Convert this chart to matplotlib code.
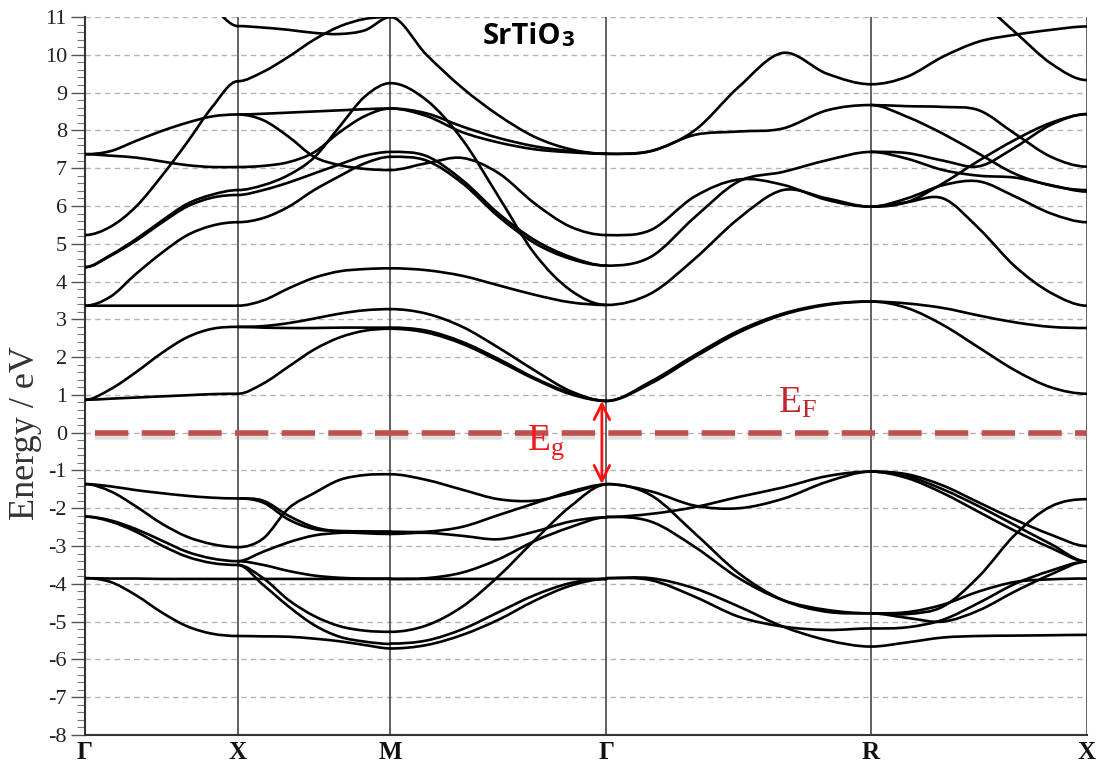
import numpy as np
import matplotlib
matplotlib.use("Agg")
import matplotlib.pyplot as plt
from matplotlib.path import Path
from matplotlib.patches import PathPatch
from matplotlib.ticker import MultipleLocator
import matplotlib.patheffects as pe

# high-symmetry path (distances in units of 2*pi/a)
k_nodes = [0.0, 0.5, 1.0, 1.707, 2.573, 3.280]
k_labels = ["Γ", "X", "M", "Γ", "R", "X"]

# band energies (eV) read at 7 equally spaced points along each segment
gx_bands = [
    [5.23, 5.45, 5.98, 6.78, 7.67, 8.62, 9.30],
    [7.37, 7.45, 7.72, 7.98, 8.20, 8.37, 8.42],
    [7.37, 7.33, 7.28, 7.18, 7.08, 7.03, 7.03],
    [4.38, 4.70, 5.12, 5.60, 6.05, 6.30, 6.42],
    [4.38, 4.68, 5.08, 5.55, 5.98, 6.22, 6.29],
    [3.36, 3.60, 4.20, 4.75, 5.22, 5.48, 5.57],
    [3.36, 3.36, 3.36, 3.36, 3.36, 3.36, 3.36],
    [0.87, 0.90, 0.93, 0.96, 0.99, 1.02, 1.03],
    [0.87, 1.15, 1.60, 2.10, 2.52, 2.75, 2.80],
    [12.8, 12.5, 12.2, 11.9, 11.6, 11.25, 10.76],
    [-1.36, -1.42, -1.52, -1.60, -1.67, -1.72, -1.74],
    [-1.36, -1.55, -1.95, -2.40, -2.75, -2.95, -3.03],
    [-2.22, -2.32, -2.55, -2.85, -3.15, -3.33, -3.40],
    [-2.22, -2.35, -2.62, -2.98, -3.28, -3.45, -3.50],
    [-3.85, -3.86, -3.86, -3.87, -3.87, -3.87, -3.87],
    [-3.85, -3.95, -4.30, -4.75, -5.12, -5.32, -5.38],
]

xm_bands = [
    [10.76, 10.72, 10.66, 10.58, 10.55, 10.65, 11.0],
    [9.30, 9.55, 9.95, 10.40, 10.75, 10.95, 11.0],
    [8.42, 8.44, 8.47, 8.50, 8.53, 8.56, 8.58],
    [8.42, 8.27, 7.83, 7.30, 7.08, 6.98, 6.95],
    [7.03, 7.06, 7.16, 7.42, 7.95, 8.38, 8.58],
    [6.29, 6.42, 6.62, 6.86, 7.10, 7.33, 7.43],
    [6.42, 6.55, 6.82, 7.28, 8.10, 8.90, 9.25],
    [5.57, 5.68, 5.98, 6.42, 6.79, 7.13, 7.30],
    [3.36, 3.50, 3.82, 4.10, 4.27, 4.33, 4.35],
    [2.80, 2.78, 2.77, 2.77, 2.78, 2.78, 2.78],
    [2.80, 2.82, 2.90, 3.02, 3.15, 3.24, 3.27],
    [1.03, 1.30, 1.75, 2.20, 2.52, 2.70, 2.75],
    [-1.74, -1.80, -2.20, -2.50, -2.62, -2.66, -2.68],
    [-1.74, -1.85, -2.30, -2.55, -2.60, -2.61, -2.62],
    [-3.03, -2.80, -2.00, -1.60, -1.25, -1.12, -1.10],
    [-3.40, -3.15, -2.90, -2.72, -2.65, -2.63, -2.62],
    [-3.40, -3.50, -3.66, -3.78, -3.84, -3.86, -3.86],
    [-3.50, -3.85, -4.43, -4.85, -5.12, -5.24, -5.27],
    [-3.50, -4.03, -4.60, -5.09, -5.40, -5.53, -5.59],
    [-3.87, -3.87, -3.87, -3.87, -3.87, -3.87, -3.87],
    [-5.38, -5.39, -5.40, -5.45, -5.52, -5.62, -5.71],
]

mg_bands = [
    [11.0, 10.0, 9.12, 8.40, 7.83, 7.50, 7.38],
    [11.0, 11.6, 12.2, 12.6, 12.8, 12.9, 12.9],
    [9.25, 8.80, 7.75, 6.25, 4.74, 3.77, 3.38],
    [8.58, 8.45, 8.10, 7.80, 7.58, 7.45, 7.38],
    [8.58, 8.38, 7.95, 7.68, 7.50, 7.42, 7.38],
    [7.43, 7.32, 6.68, 5.80, 5.10, 4.65, 4.42],
    [7.30, 7.20, 6.60, 5.72, 5.02, 4.60, 4.42],
    [6.95, 7.13, 7.27, 6.87, 6.07, 5.45, 5.23],
    [4.35, 4.30, 4.15, 3.90, 3.65, 3.45, 3.38],
    [3.27, 3.15, 2.80, 2.25, 1.65, 1.10, 0.84],
    [2.78, 2.70, 2.40, 1.95, 1.45, 1.05, 0.84],
    [2.75, 2.65, 2.35, 1.90, 1.42, 1.02, 0.84],
    [-1.10, -1.25, -1.51, -1.76, -1.80, -1.60, -1.37],
    [-2.62, -2.62, -2.49, -2.18, -1.87, -1.56, -1.37],
    [-2.68, -2.65, -2.73, -2.82, -2.62, -2.35, -2.24],
    [-3.87, -3.85, -3.70, -3.35, -2.87, -2.50, -2.24],
    [-3.87, -3.87, -3.87, -3.87, -3.87, -3.87, -3.87],
    [-5.27, -5.10, -4.60, -3.80, -2.85, -1.95, -1.37],
    [-5.58, -5.50, -5.20, -4.75, -4.30, -3.98, -3.87],
    [-5.71, -5.62, -5.35, -4.95, -4.45, -4.05, -3.87],
]

gr_bands = [
    [7.38, 7.45, 8.00, 9.15, 10.05, 9.50, 9.22],
    [7.38, 7.45, 7.88, 7.97, 8.05, 8.53, 8.67],
    [5.23, 5.36, 6.25, 6.70, 6.56, 6.16, 5.98],
    [4.42, 4.65, 5.70, 6.65, 6.90, 7.21, 7.43],
    [3.38, 3.68, 4.60, 5.67, 6.42, 6.20, 5.98],
    [0.84, 1.35, 2.05, 2.70, 3.15, 3.40, 3.47],
    [0.84, 1.30, 2.00, 2.65, 3.12, 3.38, 3.47],
    [-1.36, -1.55, -1.93, -2.00, -1.75, -1.30, -1.03],
    [-2.23, -2.15, -1.97, -1.70, -1.45, -1.15, -1.03],
    [-1.36, -1.65, -2.66, -3.72, -4.43, -4.74, -4.78],
    [-2.23, -2.35, -3.02, -3.85, -4.43, -4.69, -4.78],
    [-3.85, -3.90, -4.34, -4.87, -5.13, -5.22, -5.18],
    [-3.85, -3.85, -4.12, -4.60, -5.13, -5.49, -5.66],
]

rx_bands = [
    [9.22, 9.42, 9.95, 10.35, 10.53, 10.66, 10.75],
    [12.0, 11.9, 11.7, 11.4, 10.6, 9.77, 9.33],
    [8.67, 8.64, 8.62, 8.53, 7.91, 7.30, 7.04],
    [8.67, 8.36, 7.91, 7.38, 6.85, 6.54, 6.42],
    [7.43, 7.40, 7.20, 7.05, 7.55, 8.15, 8.43],
    [7.43, 7.25, 6.95, 6.80, 6.75, 6.55, 6.38],
    [5.98, 6.10, 6.60, 7.20, 7.75, 8.20, 8.43],
    [5.98, 6.20, 6.55, 6.65, 6.25, 5.80, 5.57],
    [5.98, 6.10, 6.20, 5.40, 4.40, 3.70, 3.36],
    [3.47, 3.42, 3.30, 3.10, 2.92, 2.80, 2.77],
    [3.47, 3.30, 2.85, 2.25, 1.65, 1.20, 1.03],
    [-1.03, -1.15, -1.50, -1.95, -2.45, -2.95, -3.41],
    [-1.03, -1.10, -1.40, -1.85, -2.30, -2.70, -3.00],
    [-1.03, -1.20, -1.60, -2.10, -2.60, -3.05, -3.41],
    [-4.78, -4.80, -4.60, -3.80, -2.70, -1.95, -1.76],
    [-4.78, -4.75, -4.55, -4.20, -3.95, -3.88, -3.86],
    [-5.18, -5.15, -4.95, -4.50, -4.00, -3.65, -3.41],
    [-4.78, -4.90, -5.00, -4.70, -4.20, -3.75, -3.41],
    [-5.66, -5.55, -5.42, -5.38, -5.37, -5.36, -5.35],
]

segments = [gx_bands, xm_bands, mg_bands, gr_bands, rx_bands]

e_gap = [0.84, -1.36]   # CB minimum and VB maximum at Gamma
e_fermi = 0.0


def smooth_path(ks, es):
    """Bezier path through the read points, flat at the high-symmetry ends."""
    pts = np.column_stack([ks, es])
    first = [2 * pts[0, 0] - pts[1, 0], pts[1, 1]]
    last = [2 * pts[-1, 0] - pts[-2, 0], pts[-2, 1]]
    ext = np.vstack([first, pts, last])
    verts = [pts[0]]
    codes = [Path.MOVETO]
    for i in range(len(pts) - 1):
        p0, p1, p2, p3 = ext[i], ext[i + 1], ext[i + 2], ext[i + 3]
        verts += [p1 + (p2 - p0) / 6.0, p2 - (p3 - p1) / 6.0, p2]
        codes += [Path.CURVE4] * 3
    return Path(verts, codes)


plt.rcParams["font.family"] = "serif"
plt.rcParams["font.serif"] = ["Liberation Serif", "DejaVu Serif"]
plt.rcParams["mathtext.fontset"] = "custom"
plt.rcParams["mathtext.rm"] = "Liberation Serif"
plt.rcParams["mathtext.it"] = "Liberation Serif:italic"
plt.rcParams["axes.unicode_minus"] = False

fig = plt.figure(figsize=(10.96, 7.62), dpi=100)
ax = fig.add_axes([85 / 1096, 27 / 762, 1002 / 1096, 718 / 762])
ax.set_xlim(k_nodes[0], k_nodes[-1])
ax.set_ylim(-8, 11)

# grid and high-symmetry lines
for e in range(-7, 12):
    ax.axhline(e, color="#b4b4b4", lw=1.0, dashes=(4, 3), zorder=1)
for k in k_nodes[1:]:
    ax.axvline(k, color="#555555", lw=1.3, zorder=2)

# bands
for s, bands in enumerate(segments):
    ks = np.linspace(k_nodes[s], k_nodes[s + 1], len(bands[0]))
    for es in bands:
        ax.add_patch(PathPatch(smooth_path(ks, es), fill=False,
                               edgecolor="black", lw=1.9, zorder=3,
                               capstyle="round", joinstyle="round"))

# Fermi level
ax.plot([0.033, k_nodes[-1]], [e_fermi, e_fermi], color="#c0504d", lw=4.0,
        dashes=(6, 2.4), zorder=4,
        path_effects=[pe.SimpleLineShadow(offset=(0, -3), shadow_color="#999999", alpha=0.3),
                      pe.Normal()])

# band gap arrow
ax.annotate("", xy=(1.692, e_gap[1]), xytext=(1.692, e_gap[0]),
            arrowprops=dict(arrowstyle="<->", color="#ff1010", lw=2.0,
                            mutation_scale=28, shrinkA=0, shrinkB=0),
            zorder=5)
ax.text(1.447, -0.46, r"$\mathrm{E_g}$", color="#ee1c1c", fontsize=27,
        va="baseline", ha="left", zorder=5)
ax.text(2.268, 0.52, r"$\mathrm{E_F}$", color="#c0272d", fontsize=27,
        va="baseline", ha="left", zorder=5)

# title
t1 = ax.text(1.303, 10.29, "SrTiO", family="Open Sans", fontweight="bold",
             fontsize=21, color="black", va="baseline", ha="left")
ax.annotate("3", xy=(1, 0), xycoords=t1, xytext=(-0.5, 0),
            textcoords="offset points", family="Open Sans",
            fontweight="bold", fontsize=16, va="bottom", ha="left")

# axes styling
for side in ["top", "right"]:
    ax.spines[side].set_visible(False)
ax.spines["left"].set_color("#333333")
ax.spines["left"].set_linewidth(1.5)
ax.spines["bottom"].set_color("#333333")
ax.spines["bottom"].set_linewidth(1.5)

ax.yaxis.set_major_locator(MultipleLocator(1))
ax.yaxis.set_minor_locator(MultipleLocator(0.2))
ax.tick_params(axis="y", which="major", direction="out", length=10, width=1.0,
               color="#555555", labelsize=16, labelcolor="#222222", pad=3)
ax.tick_params(axis="y", which="minor", direction="out", length=6, width=0.8,
               color="#777777")
ax.set_xticks(k_nodes)
ax.set_xticklabels(k_labels, fontweight="bold", fontsize=18)
ax.tick_params(axis="x", length=0, pad=4, labelcolor="#111111")
ax.set_ylabel("Energy / eV", fontsize=26, color="#333333")
ax.yaxis.set_label_coords(-0.043, 0.42)

fig.savefig("out.png", dpi=100)
